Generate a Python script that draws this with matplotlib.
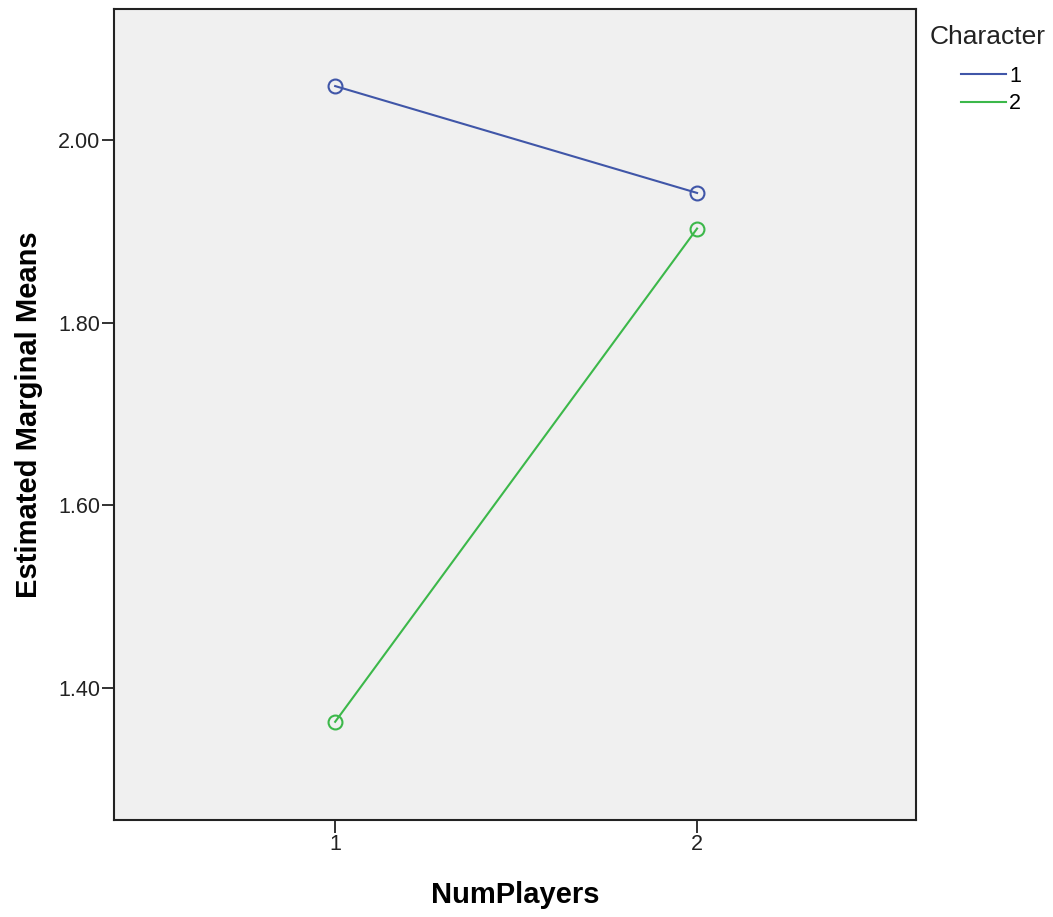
import matplotlib.pyplot as plt
from matplotlib.lines import Line2D

plt.rcParams["font.family"] = ["Liberation Sans", "DejaVu Sans"]

# Estimated marginal means
num_players = [1, 2]
character_1 = [2.059, 1.942]
character_2 = [1.363, 1.903]
y_ticks = [1.40, 1.60, 1.80, 2.00]

blue = "#4056a8"
green = "#3cb84a"

fig = plt.figure(figsize=(10.53, 9.17), dpi=100)
ax = fig.add_axes([0.1083, 0.1058, 0.7616, 0.8844])
ax.set_facecolor("#f0f0f0")

ax.plot(num_players, character_1, color=blue, lw=1.5, marker="o", ms=10,
        mfc="none", mew=1.5)
ax.plot(num_players, character_2, color=green, lw=1.5, marker="o", ms=10,
        mfc="none", mew=1.5)

ax.set_xlim(0.389, 2.605)
ax.set_ylim(1.2555, 2.1434)
ax.set_xticks(num_players)
ax.set_xticklabels(["1", "2"])
ax.set_yticks(y_ticks)
ax.set_yticklabels([f"{v:.2f}" for v in y_ticks])
ax.tick_params(direction="out", length=9, width=1.3, labelsize=15.5,
               colors="#222222", pad=1)
for s in ax.spines.values():
    s.set_linewidth(1.5)
    s.set_color("#222222")

ax.set_xlabel("NumPlayers", fontsize=21, fontweight="bold", labelpad=19)
ax.set_ylabel("Estimated Marginal Means", fontsize=21, fontweight="bold", labelpad=11)

# legend title drawn separately so the entries can sit lower
fig.text(930 / 1053, 1 - 37 / 917, "Character", fontsize=19, ha="left", va="center",
         color="#222222")
handles = [Line2D([], [], color=blue, lw=1.5), Line2D([], [], color=green, lw=1.5)]
ax.legend(handles, ["1", "2"], loc="upper left",
          bbox_to_anchor=(950 / 1053, 1 - 55 / 917), bbox_transform=fig.transFigure,
          frameon=False, fontsize=15.5, handlelength=2.1, handletextpad=0.15,
          labelspacing=0.3, borderpad=0)

plt.savefig("out.png", dpi=100)
